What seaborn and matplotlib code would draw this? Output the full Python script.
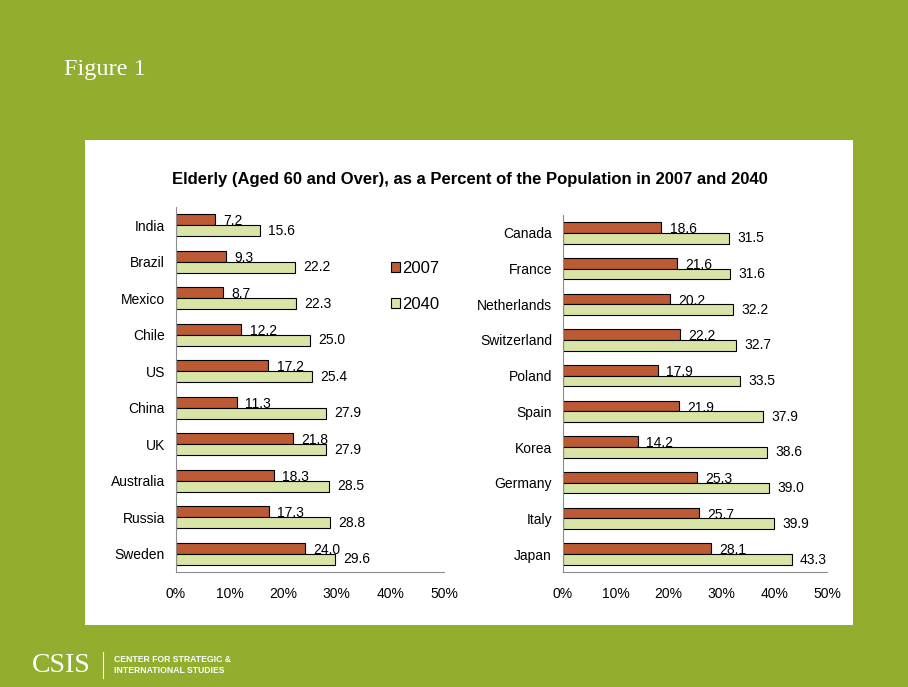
import matplotlib
matplotlib.use("Agg")
import matplotlib.pyplot as plt
import pandas as pd
import seaborn as sns
from matplotlib.patches import Rectangle
from matplotlib.ticker import FuncFormatter

# -----------------------------------------------------------------------
# Data
# -----------------------------------------------------------------------
YEARS = ["2007", "2040"]

left_countries = ["India", "Brazil", "Mexico", "Chile", "US",
                  "China", "UK", "Australia", "Russia", "Sweden"]
left_2007 = [7.2, 9.3, 8.7, 12.2, 17.2, 11.3, 21.8, 18.3, 17.3, 24.0]
left_2040 = [15.6, 22.2, 22.3, 25.0, 25.4, 27.9, 27.9, 28.5, 28.8, 29.6]

right_countries = ["Canada", "France", "Netherlands", "Switzerland", "Poland",
                   "Spain", "Korea", "Germany", "Italy", "Japan"]
right_2007 = [18.6, 21.6, 20.2, 22.2, 17.9, 21.9, 14.2, 25.3, 25.7, 28.1]
right_2040 = [31.5, 31.6, 32.2, 32.7, 33.5, 37.9, 38.6, 39.0, 39.9, 43.3]

x_ticks = [0, 10, 20, 30, 40, 50]

TITLE = "Elderly (Aged 60 and Over), as a Percent of the Population in 2007 and 2040"

GREEN = "#93AE2F"
COLORS = {"2007": "#BC5A34", "2040": "#D8E5A6"}
FS = 10

W, H = 908, 687


def long_form(countries, v07, v40):
    df = pd.DataFrame({"country": countries, "2007": v07, "2040": v40})
    return df.melt(id_vars="country", value_vars=YEARS,
                   var_name="year", value_name="value")


def px_axes(fig, x0, x1, y0, y1):
    """axes from pixel box (y measured from top)"""
    return fig.add_axes([x0 / W, 1 - y1 / H, (x1 - x0) / W, (y1 - y0) / H])


def draw_panel(ax, df, countries):
    sns.barplot(data=df, x="value", y="country", hue="year", order=countries,
                hue_order=YEARS, palette=COLORS, saturation=1, orient="h",
                width=0.6, edgecolor="black", linewidth=0.8, ax=ax)
    for i, cont in enumerate(ax.containers):
        texts = ax.bar_label(cont, fmt="%.1f", padding=6, fontsize=FS)
        if i == 0:
            # 2007 labels sit a touch low, on the bar boundary
            for t in texts:
                t.xyann = (6, -1.2)
    ax.legend_.remove()
    ax.set_xlim(0, 50)
    ax.set_ylim(len(countries) - 0.5, -0.5)
    ax.set_xticks(x_ticks)
    ax.xaxis.set_major_formatter(FuncFormatter(lambda v, p: f"{v:.0f}%"))
    ax.set_xlabel("")
    ax.set_ylabel("")
    for side in ["top", "right"]:
        ax.spines[side].set_visible(False)
    for side in ["left", "bottom"]:
        ax.spines[side].set_color("#8C8C8C")
        ax.spines[side].set_linewidth(0.8)
    ax.tick_params(axis="x", length=4, width=0.8, color="#8C8C8C",
                   labelcolor="black", pad=7, labelsize=FS)
    ax.tick_params(axis="y", length=0, pad=8, labelcolor="black", labelsize=FS)
    ax.set_facecolor("none")


sns.set_style("white")
plt.rcParams["font.family"] = ["Liberation Sans", "DejaVu Sans"]
plt.rcParams["text.color"] = "black"

fig = plt.figure(figsize=(W / 100, H / 100), dpi=100, facecolor=GREEN)

# white panel behind the chart
fig.patches.append(Rectangle((85 / W, 1 - 625 / H), (853 - 85) / W, (625 - 140) / H,
                             transform=fig.transFigure, facecolor="white",
                             edgecolor="none", zorder=-5))

ax_l = px_axes(fig, 176, 444, 207, 572)
ax_r = px_axes(fig, 563, 827, 215, 572)

draw_panel(ax_l, long_form(left_countries, left_2007, left_2040), left_countries)
draw_panel(ax_r, long_form(right_countries, right_2007, right_2040), right_countries)

handles, labels = ax_l.get_legend_handles_labels()
fig.legend(handles[:2], YEARS, loc="upper left",
           bbox_to_anchor=(384 / W, 1 - 254 / H), frameon=False,
           fontsize=12, handlelength=0.55, handleheight=0.55,
           handletextpad=0.12, labelspacing=1.25, borderaxespad=0)

fig.text(470 / W, 1 - 180 / H, TITLE, ha="center", va="center",
         fontsize=12, fontweight="bold")

# slide furniture
fig.text(64 / W, 1 - 69 / H, "Figure 1", ha="left", va="center", color="white",
         fontsize=17.5, family="Liberation Serif")
fig.text(32 / W, 1 - 666 / H, "CSIS", ha="left", va="center", color="white",
         fontsize=20, family="Liberation Serif")
fig.add_artist(plt.Line2D([103 / W, 103 / W], [1 - 652 / H, 1 - 678 / H],
                          transform=fig.transFigure, color="white", linewidth=0.8))
fig.text(114 / W, 1 - 665 / H, "CENTER FOR STRATEGIC &\nINTERNATIONAL STUDIES",
         ha="left", va="center", color="white", fontsize=6.2, fontweight="bold",
         linespacing=1.3)

fig.savefig("out.png", dpi=100, facecolor=GREEN)
